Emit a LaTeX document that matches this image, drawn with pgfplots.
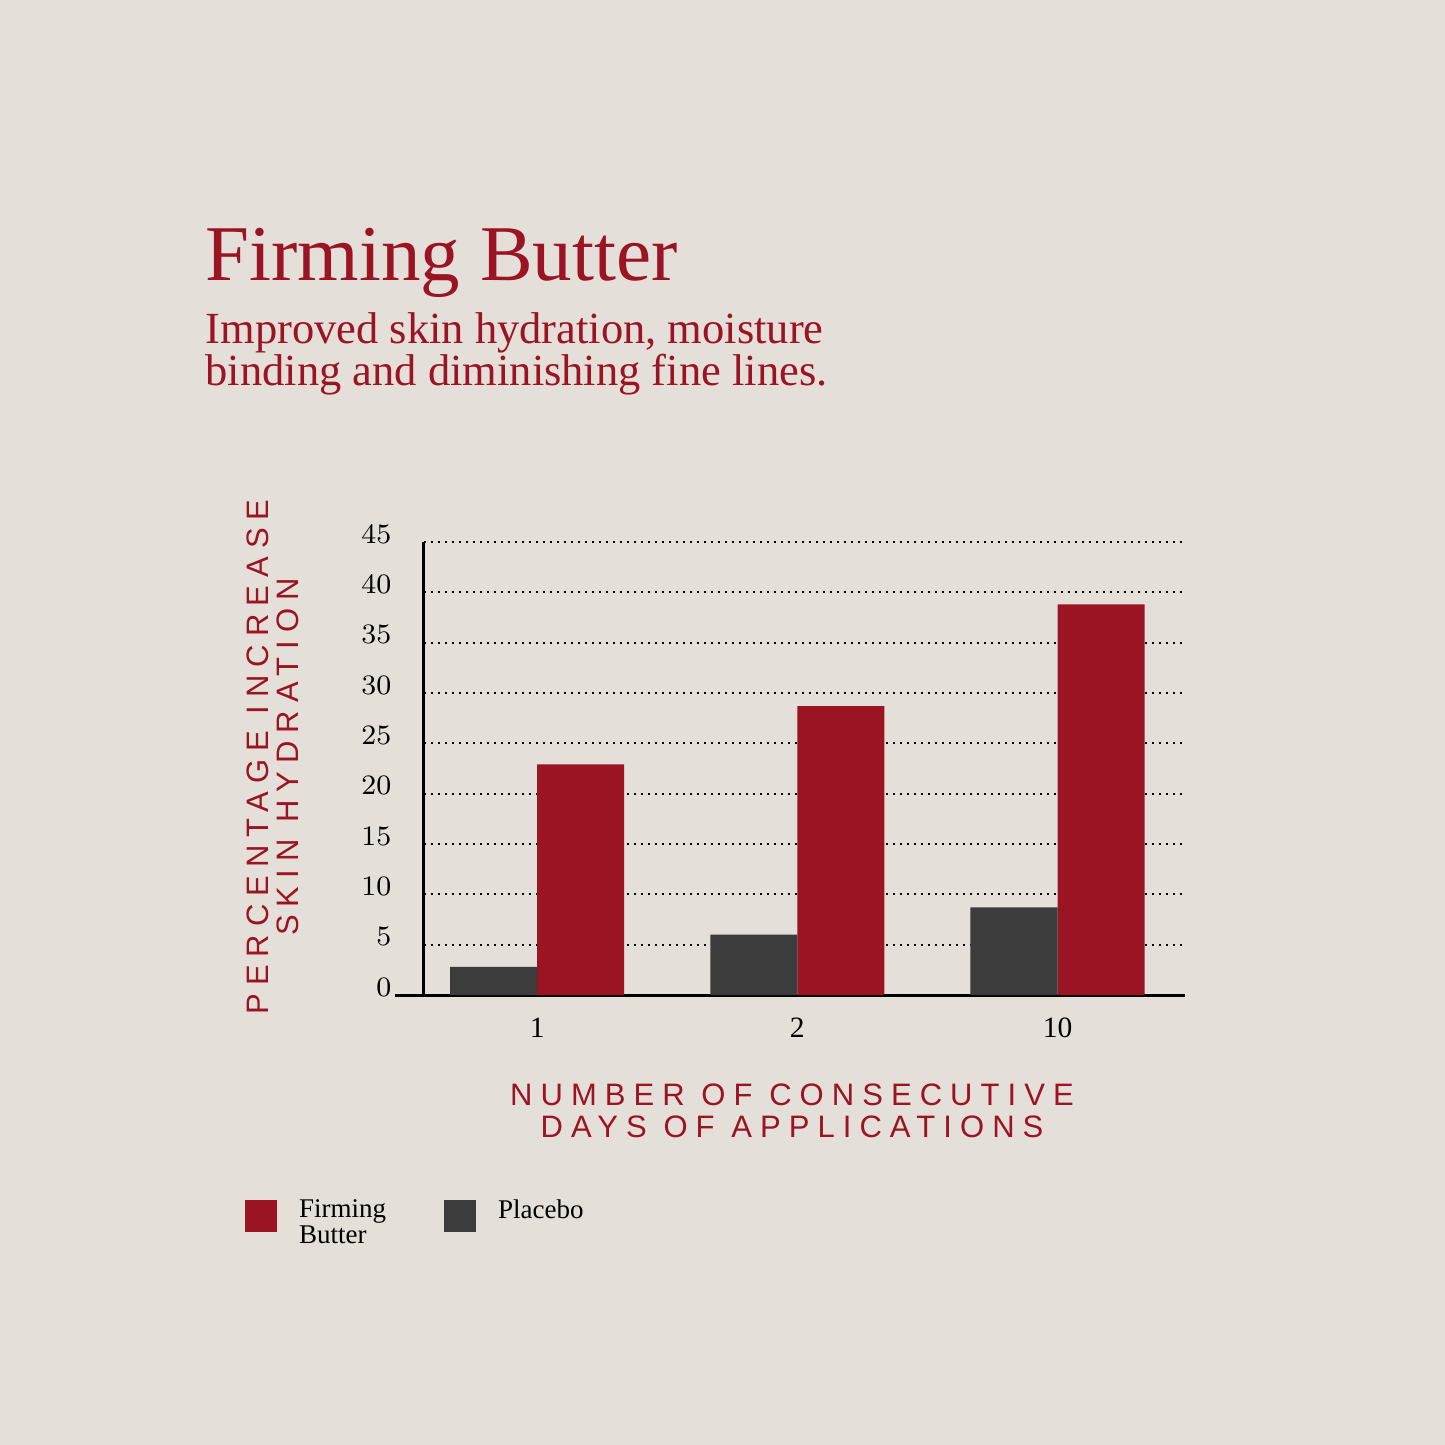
\documentclass[border=0pt]{standalone}
\usepackage{fontspec}
\usepackage{pgfplots}
\pgfplotsset{compat=1.18}
\setmainfont{Liberation Serif}
\newfontfamily\capsfont[LetterSpace=26]{Liberation Sans}

\definecolor{paper}{HTML}{E4DFD9}
\definecolor{firm}{HTML}{9A1423}
\definecolor{placebo}{HTML}{3C3C3C}

\begin{document}
\begin{tikzpicture}
% page background, 1 px = 0.1 mm
\fill[paper] (0,0) rectangle (144.5mm,-144.5mm);

\node[anchor=base west, inner sep=0pt, text=firm, font=\fontsize{7.9mm}{8mm}\selectfont]
  at (20.5mm,-28.0mm) {Firming Butter};
\node[anchor=base west, inner sep=0pt, text=firm, font=\fontsize{4.45mm}{4.2mm}\selectfont]
  at (20.5mm,-34.3mm) {Improved skin hydration, moisture};
\node[anchor=base west, inner sep=0pt, text=firm, font=\fontsize{4.45mm}{4.2mm}\selectfont]
  at (20.5mm,-38.5mm) {binding and diminishing fine lines.};

\node[rotate=90, inner sep=0pt, text=firm, align=center,
  font=\capsfont\fontsize{3.1mm}{3.0mm}\selectfont]
  at (27.3mm,-75.7mm) {PERCENTAGE INCREASE\\SKIN HYDRATION};
\node[inner sep=0pt, text=firm, align=center,
  font=\capsfont\fontsize{3.1mm}{3.2mm}\selectfont]
  at (79.2mm,-111.1mm) {NUMBER OF CONSECUTIVE\\DAYS OF APPLICATIONS};

\begin{axis}[
  at={(42.4mm,-99.5mm)}, anchor=south west,
  scale only axis, width=76.1mm, height=45.3mm,
  xmin=-0.435, xmax=2.49, ymin=0, ymax=45,
  axis lines*=left,
  axis line style={line width=0.3mm, black},
  x axis line style={shorten <=-2.9mm},
  clip=false,
  ytick={0,5,...,45},
  xtick={0,1,2}, xticklabels={1,2,10},
  major tick length=0pt,
  ymajorgrids,
  grid style={black, line width=0.22mm, dash pattern=on 0.2mm off 0.5mm},
  tick label style={font=\fontsize{2.95mm}{3mm}\selectfont, inner sep=0pt},
  yticklabel style={anchor=base east, xshift=-3.2mm, yshift=-0.1mm},
  xticklabel style={anchor=base, yshift=-4.2mm},
  ybar, bar width=0.3346,
  legend style={at={(-0.2352,-0.4525)}, anchor=north west, draw=none, fill=none,
    inner sep=0pt, outer sep=0pt, legend columns=2,
    font=\fontsize{2.7mm}{2.6mm}\selectfont,
    cells={anchor=north west},
    nodes={inner sep=0pt, align=left},
    /tikz/every odd column/.append style={column sep=2.2mm},
    /tikz/every even column/.append style={column sep=5.8mm}},
  legend image code/.code={\fill[#1] (0mm,-3.2mm) rectangle (3.2mm,0mm);},
]
\addplot[fill=firm, draw=none, bar shift=0.1673]
  coordinates {(0,22.9) (1,28.7) (2,38.8)};
\addlegendentry{Firming\\Butter}
\addplot[fill=placebo, draw=none, bar shift=-0.1673]
  coordinates {(0,2.8) (1,6.0) (2,8.7)};
\addlegendentry{Placebo}
\end{axis}
\end{tikzpicture}
\end{document}
